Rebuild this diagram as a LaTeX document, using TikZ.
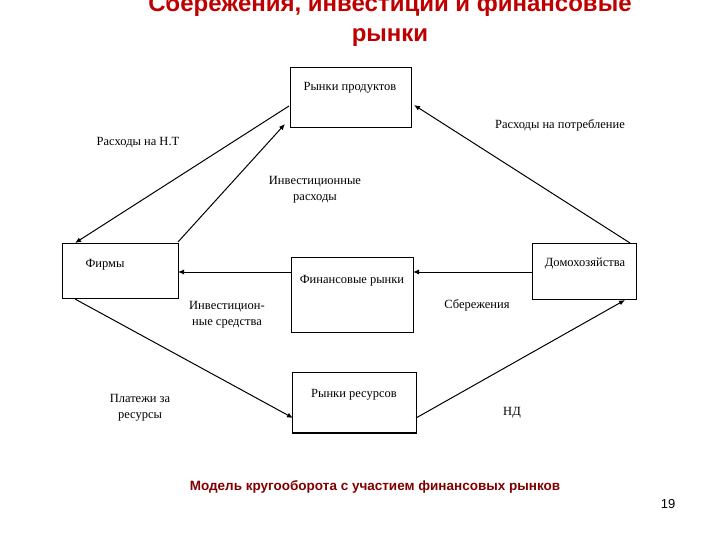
\documentclass[tikz,border=0pt]{standalone}
\usepackage{fontspec}
\setmainfont{Liberation Serif}
\newfontfamily\sansf{Liberation Sans}
\definecolor{titlered}{RGB}{192,0,0}
\definecolor{capred}{RGB}{128,0,0}
\tikzset{
 lbl/.style={font=\fontsize{12.5}{13}\selectfont, align=center, inner sep=0pt},
 flow/.style={line width=1pt, -{Latex[length=6pt,width=5pt]}}
}
\usetikzlibrary{arrows.meta}
\begin{document}
\begin{tikzpicture}[x=1pt,y=-1pt]
\useasboundingbox (0,0) rectangle (720,540);
\node[font=\sansf\bfseries\fontsize{24}{30}\selectfont, text=titlered, align=center] (t) at (390,20) {Сбережения, инвестиции и финансовые\\рынки};
% boxes
\draw[line width=0.8pt] (290,67) rectangle (411,127);
\node[lbl] at (350,88) {Рынки продуктов};
\draw[line width=0.8pt] (62,243) rectangle (178,298);
\node[lbl] at (105,265) {Фирмы};
\draw[line width=0.8pt] (291,257) rectangle (413,332);
\node[lbl] at (352,281) {Финансовые рынки};
\draw[line width=0.8pt] (532,243) rectangle (636,299);
\node[lbl] at (585,264) {Домохозяйства};
\draw[line width=0.8pt] (292,372) rectangle (416,433);
\draw[line width=1.6pt] (292,433) -- (416,433);
\node[lbl] at (354,395) {Рынки ресурсов};
% anchor coordinates
\coordinate (pmL) at (289,106);
\coordinate (pmBL) at (285,124);
\coordinate (pmR) at (414,105);
\coordinate (fTL) at (75,243);
\coordinate (fTR) at (178,242);
\coordinate (fBL) at (75,299);
\coordinate (fR) at (178,272);
\coordinate (finL) at (291,272);
\coordinate (finR) at (413,272);
\coordinate (hL) at (532,272);
\coordinate (hTR) at (630,243);
\coordinate (hB) at (625,300);
\coordinate (rL) at (293,418);
\coordinate (rR) at (416,418);
\draw[flow] (pmL) -- (fTL);
\draw[flow] (fTR) -- (pmBL);
\draw[flow] (hTR) -- (pmR);
\draw[flow] (finL) -- (fR);
\draw[flow] (hL) -- (finR);
\draw[flow] (fBL) -- (rL);
\draw[flow] (rR) -- (hB);
% labels
\node[lbl] at (138,143) {Расходы на Н.Т};
\node[lbl] at (315,190) {Инвестиционные\\[3pt]расходы};
\node[lbl] at (560,125) {Расходы на потребление};
\node[lbl] at (227,315) {Инвестицион-\\[3pt]ные средства};
\node[lbl] at (477,305) {Сбережения};
\node[lbl] at (140,408) {Платежи за\\[3pt]ресурсы};
\node[lbl] at (512,413) {НД};
\node[font=\sansf\bfseries\fontsize{13.5}{15}\selectfont, text=capred] at (375,487) {Модель кругооборота с участием финансовых рынков};
\node[font=\sansf\fontsize{13}{14}\selectfont] at (668,504) {19};
\end{tikzpicture}
\end{document}
